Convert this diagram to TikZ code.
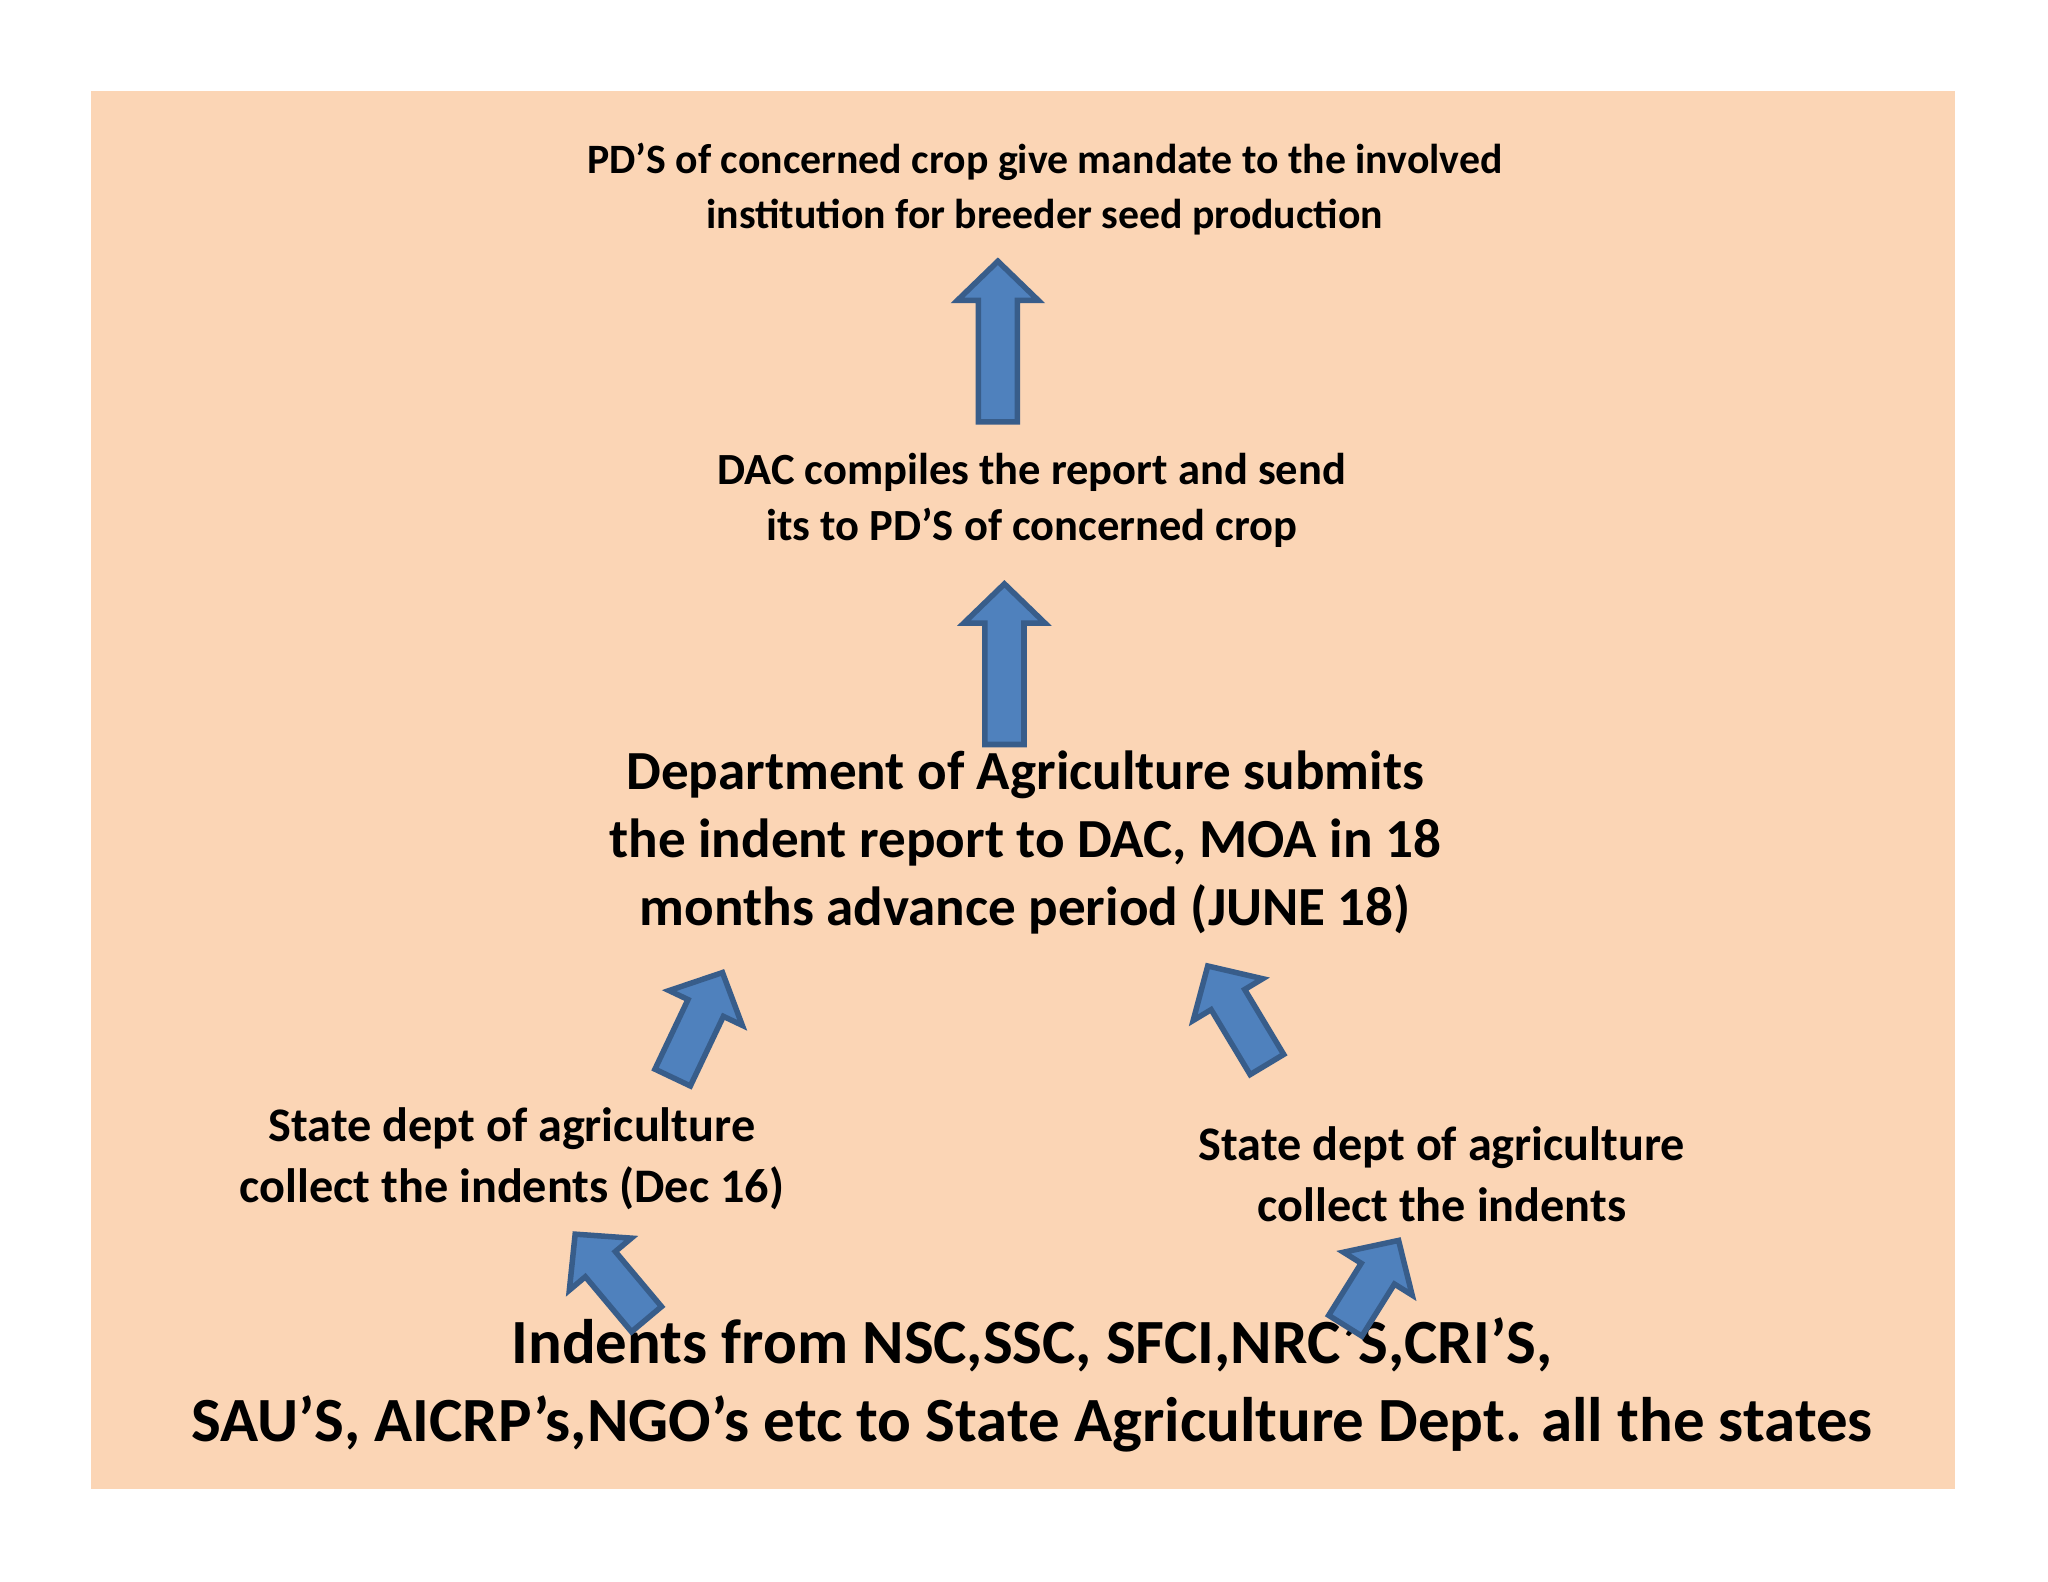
\documentclass[tikz,border=0pt]{standalone}
\usepackage{fontspec}
\setmainfont{Carlito}
\definecolor{peach}{HTML}{FBD5B5}
\definecolor{ablue}{HTML}{4F81BD}
\definecolor{ablueb}{HTML}{385D8A}
\newcommand{\barrow}[4]{\draw[arr,shift={(#1,#2)},rotate=#3] (0,-15)--(#4-30,-15)--(#4-30,-31)--(#4,0)--(#4-30,31)--(#4-30,15)--(0,15)--cycle;}
\begin{document}
\begin{tikzpicture}[x=0.01cm,y=0.01cm,
  arr/.style={fill=ablue,draw=ablueb,line width=1.2pt,line join=miter},
  txt/.style={align=center,font=\bfseries,inner sep=0pt}]
\useasboundingbox (0,0) rectangle (1568,-1211);
\fill[white] (0,0) rectangle (1568,-1211);
\fill[peach] (70,-70) rectangle (1497,-1140);
\node[txt,font=\bfseries\fontsize{9.1}{12}\selectfont] (t1) at (800,-145) {PD’S of concerned crop give mandate to the involved\\institution for breeder seed production};
\node[txt,font=\bfseries\fontsize{9.7}{12.2}\selectfont] (t2) at (790,-383) {DAC compiles the report and send\\its to PD’S of concerned crop};
\node[txt,font=\bfseries\fontsize{12}{14.8}\selectfont] (t3) at (785,-645) {Department of Agriculture submits\\the indent report to DAC, MOA in 18\\months advance period (JUNE 18)};
\node[txt,font=\bfseries\fontsize{10.5}{13.4}\selectfont] (s1) at (392,-887) {State dept of agriculture\\collect the indents (Dec 16)};
\node[txt,font=\bfseries\fontsize{10.5}{13.4}\selectfont] (s2) at (1104,-899) {State dept of agriculture\\collect the indents};
\node[txt,font=\bfseries\fontsize{13.7}{17}\selectfont] (b) at (790,-1060) {Indents from NSC,SSC, SFCI,NRC’S,CRI’S,\\SAU’S, AICRP’s,NGO’s etc to State Agriculture Dept. all the states};
\barrow{764}{-323}{90}{123}
\barrow{769}{-570}{90}{123}
\barrow{515}{-825}{64.6}{89}
\barrow{970}{-815}{121}{88}
\barrow{495}{-1010}{130}{85}
\barrow{1030}{-1015}{58}{77}
\end{tikzpicture}
\end{document}
